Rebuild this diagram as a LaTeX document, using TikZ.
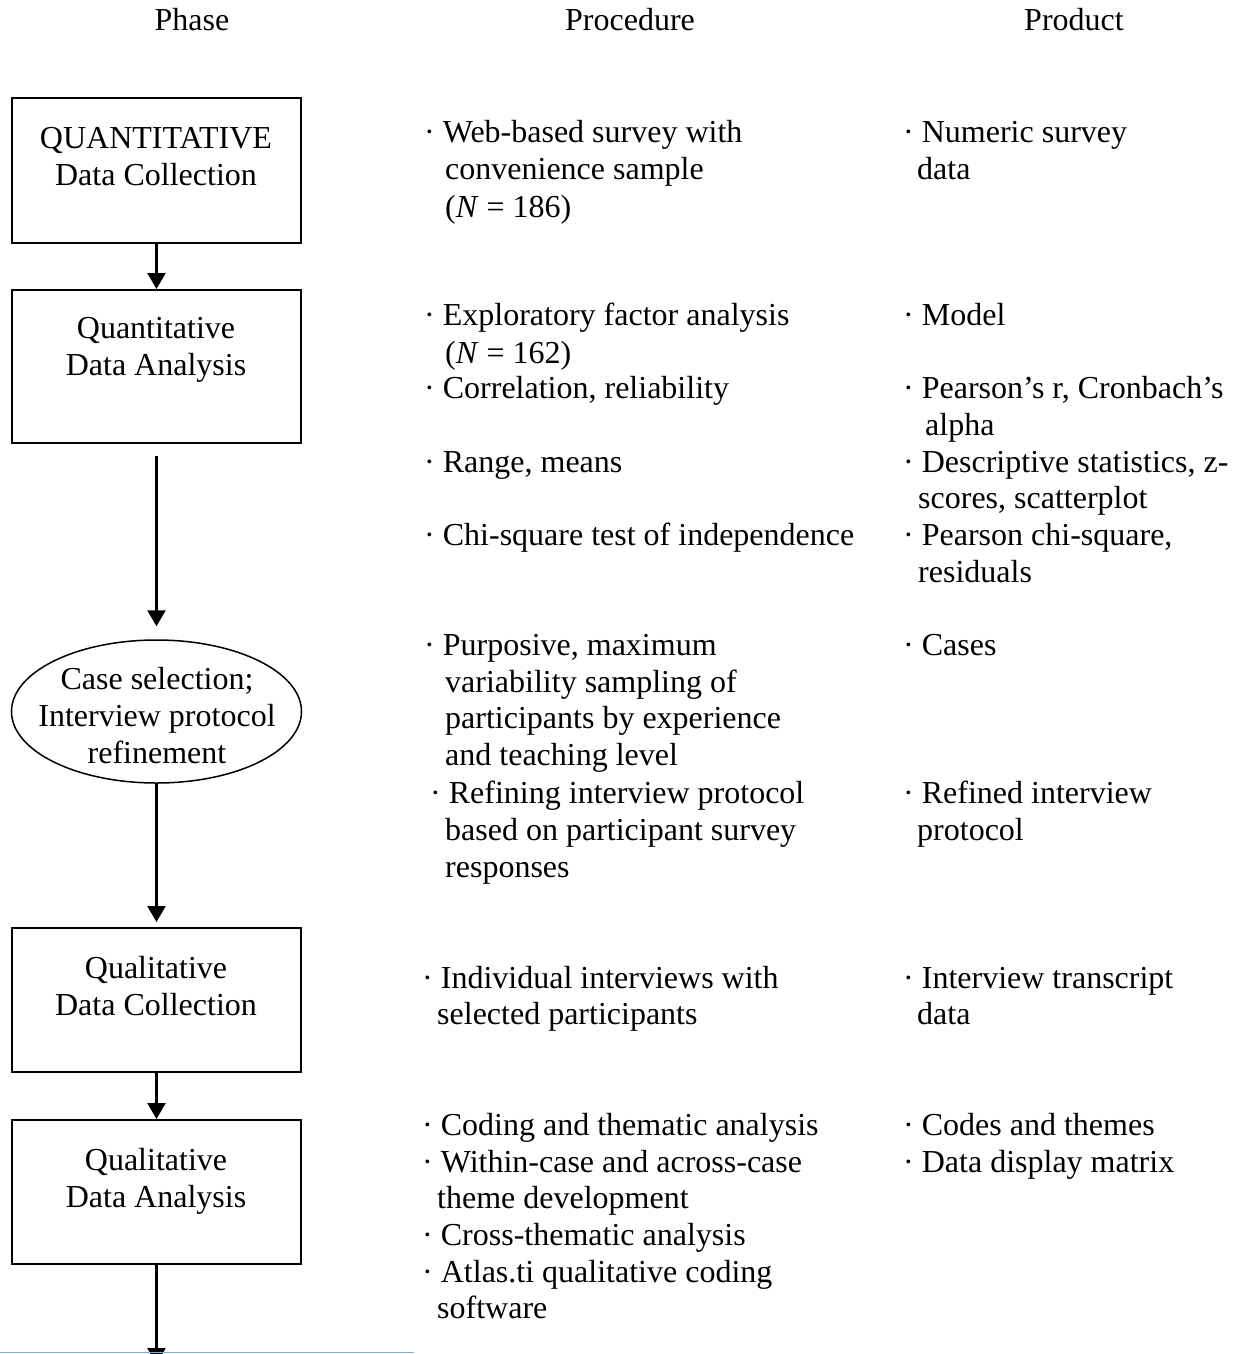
\documentclass[tikz,border=0pt]{standalone}
\usepackage{fontspec}
\setmainfont{Liberation Serif}
\usetikzlibrary{arrows.meta,shapes.geometric}
\definecolor{edgeblue}{RGB}{125,172,210}
\tikzset{
  phasebox/.style={draw, line width=2pt, minimum width=289pt, inner sep=0pt},
  oval/.style={draw, ellipse, line width=1.5pt, minimum width=290pt, minimum height=143pt, inner sep=0pt},
  txt/.style={anchor=base west, inner sep=0pt},
  ctr/.style={anchor=base, inner sep=0pt},
  arr/.style={line width=2.4pt, -{Triangle[width=18pt,length=16pt]}}
}
\begin{document}
\begin{tikzpicture}[x=1pt, y=-1pt, font=\fontsize{32}{37}\selectfont]
\useasboundingbox (0,0) rectangle (1234,1354);
\fill[white] (0,0) rectangle (1234,1354);
\clip (0,0) rectangle (1234,1354);

% headers
\node[ctr] (hphase) at (192,31) {Phase};
\node[ctr] (hproc) at (630,31) {Procedure};
\node[ctr] (hprod) at (1074,31) {Product};

% phase column
\node[phasebox, minimum height=145pt] (b1) at (156.5,170.5) {};
\node[ctr] (b1a) at (156,148) {QUANTITATIVE};
\node[ctr] (b1b) at (156,185) {Data Collection};

\node[phasebox, minimum height=153pt] (b2) at (156.5,366.5) {};
\node[ctr] (b2a) at (156,338) {Quantitative};
\node[ctr] (b2b) at (156,375) {Data Analysis};

\node[oval] (e) at (156.5,711.5) {};
\node[ctr] (ea) at (157,689) {Case selection;};
\node[ctr] (eb) at (157,726) {Interview protocol};
\node[ctr] (ec) at (157,763) {refinement};

\node[phasebox, minimum height=144pt] (b3) at (156.5,1000) {};
\node[ctr] (b3a) at (156,978) {Qualitative};
\node[ctr] (b3b) at (156,1015) {Data Collection};

\node[phasebox, minimum height=144pt] (b4) at (156.5,1192) {};
\node[ctr] (b4a) at (156,1170) {Qualitative};
\node[ctr] (b4b) at (156,1207) {Data Analysis};

\coordinate (bend) at (156.5,1364);

\draw[arr] (b1.south) -- (b2.north);
\draw[arr, shorten <=12pt, shorten >=13pt] (b2.south) -- (e.north);
\draw[arr, shorten >=5pt] (e.south) -- (b3.north);
\draw[arr] (b3.south) -- (b4.north);
\draw[arr] (b4.south) -- (bend);

% procedure column
\node[txt] (p1) at (424,142) {· Web-based survey with};
\node[txt] (p1b) at (445,179) {convenience sample};
\node[txt] (p1c) at (445,217) {(\textit{N} = 186)};

\node[txt] (p2) at (424,325) {· Exploratory factor analysis};
\node[txt] (p2b) at (445,363) {(\textit{N} = 162)};
\node[txt] (p3) at (424,398) {· Correlation, reliability};
\node[txt] (p4) at (424,472) {· Range, means};
\node[txt] (p5) at (424,545) {· Chi-square test of independence};

\node[txt] (p6) at (424,655) {· Purposive, maximum};
\node[txt] (p6b) at (445,692) {variability sampling of};
\node[txt] (p6c) at (445,728) {participants by experience};
\node[txt] (p6d) at (445,765) {and teaching level};
\node[txt] (p7) at (430,803) {· Refining interview protocol};
\node[txt] (p7b) at (445,840) {based on participant survey};
\node[txt] (p7c) at (445,877) {responses};

\node[txt] (p8) at (422,988) {· Individual interviews with};
\node[txt] (p8b) at (437,1024) {selected participants};

\node[txt] (p9) at (422,1135) {· Coding and thematic analysis};
\node[txt] (p10) at (422,1172) {· Within-case and across-case};
\node[txt] (p10b) at (437,1208) {theme development};
\node[txt] (p11) at (422,1245) {· Cross-thematic analysis};
\node[txt] (p12) at (422,1282) {· Atlas.ti qualitative coding};
\node[txt] (p12b) at (437,1318) {software};

% product column
\node[txt] (r1) at (903,142) {· Numeric survey};
\node[txt] (r1b) at (917,179) {data};
\node[txt] (r2) at (903,325) {· Model};
\node[txt] (r3) at (903,398) {· Pearson’s r, Cronbach’s};
\node[txt] (r3b) at (925,435) {alpha};
\node[txt] (r4) at (903,472) {· Descriptive statistics, z-};
\node[txt] (r4b) at (918,508) {scores, scatterplot};
\node[txt] (r5) at (903,545) {· Pearson chi-square,};
\node[txt] (r5b) at (918,582) {residuals};
\node[txt] (r6) at (903,655) {· Cases};
\node[txt] (r7) at (903,803) {· Refined interview};
\node[txt] (r7b) at (917,840) {protocol};
\node[txt] (r8) at (903,988) {· Interview transcript};
\node[txt] (r8b) at (917,1024) {data};
\node[txt] (r9) at (903,1135) {· Codes and themes};
\node[txt] (r10) at (903,1172) {· Data display matrix};

% thin blue rule at the bottom edge
\draw[edgeblue, line width=1.2pt] (0,1352.5) -- (414,1352.5);
\end{tikzpicture}
\end{document}
